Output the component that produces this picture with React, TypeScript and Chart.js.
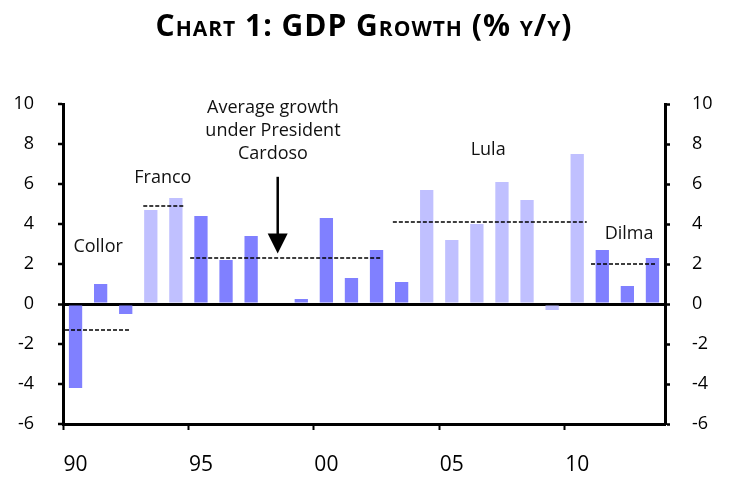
import React, { useEffect, useRef } from "react";
import { Chart, registerables } from "chart.js";

Chart.register(...registerables);

// ---------- data ----------
const years = [
  "1990", "1991", "1992", "1993", "1994", "1995", "1996", "1997", "1998", "1999",
  "2000", "2001", "2002", "2003", "2004", "2005", "2006", "2007", "2008", "2009",
  "2010", "2011", "2012", "2013",
];
const gdpGrowth = [
  -4.2, 1.0, -0.5, 4.7, 5.3, 4.4, 2.2, 3.4, 0.0, 0.25,
  4.3, 1.3, 2.7, 1.1, 5.7, 3.2, 4.0, 6.1, 5.2, -0.3,
  7.5, 2.7, 0.9, 2.3,
];
// 0 = darker shading, 1 = lighter shading
const shadeGroup = [
  0, 0, 0, 1, 1, 0, 0, 0, 0, 0,
  0, 0, 0, 0, 1, 1, 1, 1, 1, 1,
  1, 0, 0, 0,
];
const yMin = -6;
const yMax = 10;
const yStep = 2;

// average growth under each president (in category-index units along x)
const presidents = ["Collor", "Franco", "Cardoso", "Lula", "Dilma"];
const avgGrowth = [-1.3, 4.9, 2.3, 4.1, 2.0];
const avgStart = [-0.42, 2.7, 4.57, 12.65, 20.55];
const avgEnd = [2.2, 4.32, 12.18, 20.38, 23.18];

// annotation labels (x in category-index units, y in % units)
const noteText = [
  ["Collor"],
  ["Franco"],
  ["Average growth", "under President", "Cardoso"],
  ["Lula"],
  ["Dilma"],
];
const noteX = [0.9, 3.48, 7.87, 16.45, 22.07];
const noteY = [2.9, 6.36, 8.73, 7.79, 3.55];

// arrow pointing to Cardoso's average
const arrowX = 8.06;
const arrowFrom = 6.36;
const arrowTo = 2.52;

const titleText = "Chart 1: GDP Growth (% y/y)";

// ---------- styles ----------
const DARK = "#8080FF";
const LIGHT = "#C0C0FF";
const FONT = "'Open Sans', 'DejaVu Sans', sans-serif";

export default function App() {
  const canvasRef = useRef<HTMLCanvasElement | null>(null);

  useEffect(() => {
    const canvas = canvasRef.current;
    if (!canvas) return;

    const overlay = {
      id: "overlay",
      afterDraw(chart: any) {
        const ctx = chart.ctx;
        const xs = chart.scales.x2;
        const ys = chart.scales.y;
        const area = chart.chartArea;
        ctx.save();
        // title
        ctx.fillStyle = "#000";
        ctx.font = `bold 30px ${FONT}`;
        try {
          (ctx as any).fontVariantCaps = "small-caps";
          (ctx as any).letterSpacing = "1px";
        } catch (e) {}
        ctx.textAlign = "center";
        ctx.textBaseline = "alphabetic";
        ctx.fillText(titleText, (area.left + area.right) / 2, 36);
        try {
          (ctx as any).fontVariantCaps = "normal";
          (ctx as any).letterSpacing = "0px";
        } catch (e) {}

        // annotation labels
        const fs = 18;
        const lh = 22.7;
        ctx.font = `${fs}px ${FONT}`;
        ctx.fillStyle = "#111";
        noteText.forEach((lines, i) => {
          const cx = xs.getPixelForValue(noteX[i]);
          const cy = ys.getPixelForValue(noteY[i]);
          const n = lines.length;
          lines.forEach((t, j) => {
            const yy = cy + (j - (n - 1) / 2) * lh + 0.357 * fs;
            ctx.fillText(t, cx, yy);
          });
        });

        // arrow
        const ax = xs.getPixelForValue(arrowX);
        const ay0 = ys.getPixelForValue(arrowFrom);
        const ay1 = ys.getPixelForValue(arrowTo);
        const headH = 20;
        const headW = 10;
        ctx.strokeStyle = "#000";
        ctx.lineWidth = 2.5;
        ctx.beginPath();
        ctx.moveTo(ax, ay0);
        ctx.lineTo(ax, ay1 - headH + 1);
        ctx.stroke();
        ctx.fillStyle = "#000";
        ctx.beginPath();
        ctx.moveTo(ax - headW, ay1 - headH);
        ctx.lineTo(ax + headW, ay1 - headH);
        ctx.lineTo(ax, ay1);
        ctx.closePath();
        ctx.fill();
        ctx.restore();
      },
    };

    const lineSets = presidents.map((p, i) => ({
      type: "line" as const,
      label: `${p} average`,
      data: [
        { x: avgStart[i], y: avgGrowth[i] },
        { x: avgEnd[i], y: avgGrowth[i] },
      ],
      xAxisID: "x2",
      yAxisID: "y",
      borderColor: "#000",
      borderWidth: 1.5,
      borderDash: [4, 2],
      pointRadius: 0,
      fill: false,
      order: 1,
    }));

    const chart = new Chart(canvas, {
      type: "bar",
      data: {
        labels: years,
        datasets: [
          {
            type: "bar" as const,
            label: "GDP growth",
            data: gdpGrowth,
            backgroundColor: shadeGroup.map((g) => (g ? LIGHT : DARK)),
            borderWidth: 0,
            grouped: false,
            barPercentage: 0.53,
            categoryPercentage: 1,
            xAxisID: "x",
            yAxisID: "y",
            order: 2,
          } as any,
          ...lineSets,
        ],
      },
      plugins: [overlay],
      options: {
        responsive: false,
        animation: false,
        layout: { padding: { top: 104, left: 0, right: 0, bottom: 0 } },
        plugins: {
          legend: { display: false },
          title: { display: false },
          tooltip: { enabled: false },
        },
        scales: {
          x: {
            type: "category",
            offset: true,
            grid: {
              offset: true,
              drawOnChartArea: false,
              drawTicks: true,
              tickLength: 6,
              tickWidth: 2,
              tickColor: (c: any) => (c.index % 5 === 0 ? "#000" : "rgba(0,0,0,0)"),
              color: "rgba(0,0,0,0)",
            },
            border: { display: true, color: "#000", width: 3 },
            ticks: {
              autoSkip: false,
              maxRotation: 0,
              minRotation: 0,
              padding: 22,
              color: "#000",
              font: { family: FONT, size: 21 },
              callback: (_v: any, i: number) => (i % 5 === 0 ? years[i].slice(2) : ""),
            },
            afterFit: (s: any) => {
              s.height = 63;
            },
          },
          x2: {
            type: "linear",
            display: false,
            offset: false,
            grid: { offset: false },
            min: -0.5,
            max: years.length - 0.5,
          },
          y: {
            position: "left",
            min: yMin,
            max: yMax,
            z: 1,
            ticks: {
              stepSize: yStep,
              padding: 24,
              color: "#000",
              font: { family: FONT, size: 18 },
            },
            grid: {
              drawOnChartArea: true,
              color: (c: any) => (c.tick && c.tick.value === 0 ? "#000" : "rgba(0,0,0,0)"),
              lineWidth: (c: any) => (c.tick && c.tick.value === 0 ? 3 : 0),
              tickColor: "#000",
              tickWidth: 2.5,
              tickLength: 5,
            },
            border: { display: true, color: "#000", width: 3 },
            afterFit: (s: any) => {
              s.width = 63;
            },
          },
          y1: {
            position: "right",
            min: yMin,
            max: yMax,
            ticks: {
              stepSize: yStep,
              padding: 22,
              color: "#000",
              font: { family: FONT, size: 18 },
            },
            grid: {
              drawOnChartArea: false,
              tickColor: "#000",
              tickWidth: 2.5,
              tickLength: 5,
            },
            border: { display: true, color: "#000", width: 3 },
            afterFit: (s: any) => {
              s.width = 71;
            },
          },
        },
      } as any,
    });

    return () => chart.destroy();
  }, []);

  return (
    <div style={{ position: "fixed", left: 0, top: 0, width: 736, height: 487, background: "#fff" }}>
      <canvas ref={canvasRef} width={736} height={487} style={{ width: 736, height: 487 }} />
    </div>
  );
}
